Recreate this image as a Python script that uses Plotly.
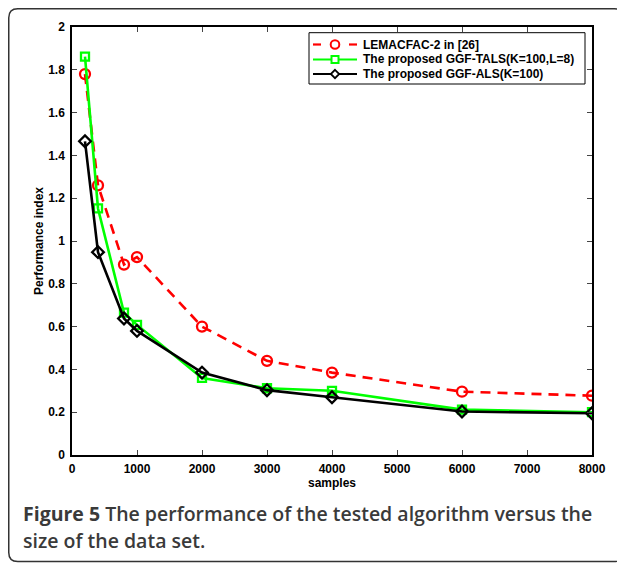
import plotly.graph_objects as go

samples = [200, 400, 800, 1000, 2000, 3000, 4000, 6000, 8000]
lemacfac = [1.78, 1.26, 0.89, 0.925, 0.60, 0.44, 0.385, 0.296, 0.277]
ggf_tals = [1.862, 1.152, 0.665, 0.608, 0.36, 0.312, 0.30, 0.212, 0.20]
ggf_als = [1.466, 0.948, 0.638, 0.58, 0.385, 0.303, 0.27, 0.203, 0.195]

names = ["LEMACFAC-2 in [26]", "The proposed GGF-TALS(K=100,L=8)", "The proposed GGF-ALS(K=100)"]
colors = ["#ff0000", "#00ff00", "#000000"]
x_ticks = [0, 1000, 2000, 3000, 4000, 5000, 6000, 7000, 8000]
y_ticks = [0, 0.2, 0.4, 0.6, 0.8, 1, 1.2, 1.4, 1.6, 1.8, 2]

OFF = 8  # page body margin
W, H = 625 - OFF, 564 - OFF
L, R, T, B = 72, 592, 27, 455  # plot area in page pixels


def px(x):
    return (x - L) / (R - L)


def py(y):
    return (B - y) / (B - T)


fig = go.Figure()
fig.add_trace(go.Scatter(x=samples, y=lemacfac, name=names[0], mode="lines+markers",
                         line=dict(color=colors[0], width=2.6, dash="10px,7px"),
                         marker=dict(symbol="circle-open", size=10, color=colors[0], line=dict(width=2.3))))
fig.add_trace(go.Scatter(x=samples, y=ggf_tals, name=names[1], mode="lines+markers",
                         line=dict(color=colors[1], width=2.6),
                         marker=dict(symbol="square-open", size=8, color=colors[1], line=dict(width=2.3))))
fig.add_trace(go.Scatter(x=samples, y=ggf_als, name=names[2], mode="lines+markers",
                         line=dict(color=colors[2], width=2.6),
                         marker=dict(symbol="diamond-open", size=9, color=colors[2], line=dict(width=2.3))))

axis_font = dict(family="Liberation Sans, Arial", size=12, color="black", weight="bold")
fig.update_xaxes(range=[0, 8000], tickvals=x_ticks, ticks="inside", ticklen=5, tickwidth=1,
                 showline=True, linecolor="black", linewidth=1.5, mirror="ticks",
                 showgrid=False, zeroline=False, tickfont=axis_font, ticklabelstandoff=2)
fig.update_yaxes(range=[0, 2], tickvals=y_ticks, ticks="inside", ticklen=5, tickwidth=1,
                 showline=True, linecolor="black", linewidth=1.5, mirror="ticks",
                 showgrid=False, zeroline=False, tickfont=axis_font, ticklabelstandoff=3)

shapes = []
# rounded frame around figure
fl, ft, fr, fb, rr = 8.75, 8.75, 623.5, 561.5, 9
path = (f"M {px(fl)},{py(fb - rr)} L {px(fl)},{py(ft + rr)} Q {px(fl)},{py(ft)} {px(fl + rr)},{py(ft)} "
        f"L {px(fr - rr)},{py(ft)} Q {px(fr)},{py(ft)} {px(fr)},{py(ft + rr)} "
        f"L {px(fr)},{py(fb - rr)} Q {px(fr)},{py(fb)} {px(fr - rr)},{py(fb)} "
        f"L {px(fl + rr)},{py(fb)} Q {px(fl)},{py(fb)} {px(fl)},{py(fb - rr)} Z")
shapes.append(dict(type="path", path=path, line=dict(color="#333333", width=1.5), layer="below"))

# custom legend (box, sample lines, symbols)
lx0, lx1, ly0, ly1 = 309, 585, 32.7, 84
shapes.append(dict(type="rect", x0=px(lx0), x1=px(lx1), y0=py(ly1), y1=py(ly0),
                   line=dict(color="black", width=1), fillcolor="white", layer="above"))
rows = [44.5, 59.5, 74]
sx0, sx1, sm = 313, 357, 335
for a, b in [(sx0, sx0 + 8), (sx1 - 8, sx1)]:
    shapes.append(dict(type="line", x0=px(a), x1=px(b), y0=py(rows[0]), y1=py(rows[0]),
                       line=dict(color=colors[0], width=2.2)))
shapes.append(dict(type="circle", x0=px(sm - 4.3), x1=px(sm + 4.3), y0=py(rows[0] + 4.3), y1=py(rows[0] - 4.3),
                   line=dict(color=colors[0], width=2)))
shapes.append(dict(type="line", x0=px(sx0), x1=px(sx1), y0=py(rows[1]), y1=py(rows[1]),
                   line=dict(color=colors[1], width=2.2)))
shapes.append(dict(type="rect", x0=px(sm - 3.5), x1=px(sm + 3.5), y0=py(rows[1] + 3.5), y1=py(rows[1] - 3.5),
                   line=dict(color=colors[1], width=2), fillcolor="white"))
shapes.append(dict(type="line", x0=px(sx0), x1=px(sx1), y0=py(rows[2]), y1=py(rows[2]),
                   line=dict(color=colors[2], width=2.2)))
d = 4.2
dpath = (f"M {px(sm)},{py(rows[2] - d)} L {px(sm + d)},{py(rows[2])} L {px(sm)},{py(rows[2] + d)} "
         f"L {px(sm - d)},{py(rows[2])} Z")
shapes.append(dict(type="path", path=dpath, line=dict(color=colors[2], width=1.8), fillcolor="white"))

for s in shapes:
    s.update(xref="paper", yref="paper")
    fig.add_shape(**s)

bold12 = dict(family="Liberation Sans, Arial", size=12, color="black", weight="bold")
annos = [
    dict(text="samples", x=px(332), y=py(483), xanchor="center", yanchor="middle", font=bold12),
    dict(text="Performance index", x=px(39), y=py(241), xanchor="center", yanchor="middle", textangle=-90,
         font=bold12),
    dict(text="<b>Figure 5</b> The performance of the tested algorithm versus the",
         x=px(21), y=py(513), xanchor="left", yanchor="middle",
         font=dict(family="Open Sans", size=19.5, color="#3a3a3a", weight=600)),
    dict(text="size of the data set.",
         x=px(21), y=py(540), xanchor="left", yanchor="middle",
         font=dict(family="Open Sans", size=19.5, color="#3a3a3a", weight=600)),
]
for nm, ry in zip(names, rows):
    annos.append(dict(text=nm, x=px(361), y=py(ry), xanchor="left", yanchor="middle", font=bold12))
for a in annos:
    a.update(xref="paper", yref="paper", showarrow=False)
    fig.add_annotation(**a)

fig.update_layout(
    width=W, height=H, margin=dict(l=L - OFF, r=W - (R - OFF), t=T - OFF, b=H - (B - OFF)),
    paper_bgcolor="white", plot_bgcolor="white", showlegend=False,
)

fig.write_html("out.html")
